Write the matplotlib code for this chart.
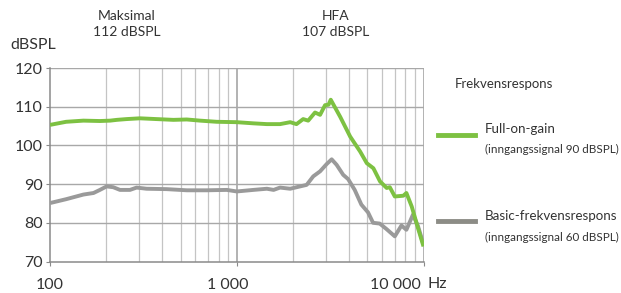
import matplotlib
matplotlib.use("Agg")
import matplotlib.pyplot as plt
import matplotlib.transforms as mtransforms
from matplotlib.ticker import FixedLocator, NullFormatter

plt.rcParams['font.family'] = ['Lato', 'DejaVu Sans']

green_freq = [100, 122, 151, 185, 210, 228, 257, 303, 372, 458, 540, 636, 781, 1000,
              1228, 1450, 1705, 1933, 2089, 2268, 2413, 2625, 2794, 2971, 3100, 3187,
              3579, 4047, 4580, 4970, 5390, 5850, 6350, 6600, 7020, 7800, 8100, 8650,
              9400, 10000]
green_db = [105.3, 106.1, 106.4, 106.3, 106.4, 106.6, 106.8, 107.0, 106.8, 106.6, 106.7,
            106.4, 106.1, 106.0, 105.7, 105.5, 105.5, 106.0, 105.5, 106.8, 106.4, 108.5,
            107.9, 110.4, 110.5, 111.8, 107.4, 102.3, 98.4, 95.4, 94.1, 90.7, 89.0, 89.2,
            86.8, 87.0, 87.7, 84.2, 78.2, 73.9]

grey_freq = [100, 122, 151, 171, 185, 201, 218, 237, 268, 291, 329, 421, 540, 690, 885,
             1000, 1228, 1450, 1575, 1705, 1933, 2180, 2368, 2568, 2794, 3033, 3223,
             3424, 3715, 3947, 4282, 4648, 5045, 5370, 5830, 6330, 7020, 7620, 8100,
             8780, 9350, 10000]
grey_db = [85.1, 86.1, 87.3, 87.7, 88.5, 89.4, 89.2, 88.5, 88.5, 89.1, 88.8, 88.7, 88.4,
           88.4, 88.5, 88.1, 88.5, 88.8, 88.5, 89.1, 88.8, 89.4, 89.8, 92.0, 93.3, 95.2,
           96.4, 95.0, 92.4, 91.3, 88.5, 84.7, 82.7, 80.0, 79.8, 78.4, 76.5, 79.3, 78.2,
           82.1, 79.1, 74.4]

y_ticks = [70, 80, 90, 100, 110, 120]
x_ticks = [100, 1000, 10000]
x_labels = ["100", "1 000", "10 000"]

GREEN = "#7dc142"
GREY = "#9a9a9a"
TXT = "#333333"
GRID = "#c4c4c4"

fig = plt.figure(figsize=(6.21, 2.93), dpi=100)
ax = fig.add_axes([50/621, 31.5/293, 373.5/621, 193.5/293])

ax.set_xscale('log')
ax.set_xlim(100, 10000)
ax.set_ylim(70, 120)

minor = [m * d for d in (100, 1000) for m in range(2, 10)]
for f in minor:
    ax.axvline(f, color=GRID, lw=0.9, zorder=1)
ax.axvline(1000, color="#9e9e9e", lw=1.1, zorder=1)
ax.axvline(10000, color="#9e9e9e", lw=1.1, zorder=1)
for y in y_ticks[1:]:
    ax.axhline(y, color="#a8a8a8", lw=1.0, zorder=1)

ax.plot(grey_freq, grey_db, color=GREY, lw=2.8, solid_capstyle='butt', zorder=3)
ax.plot(green_freq, green_db, color=GREEN, lw=2.8, solid_capstyle='butt', zorder=4)

for s in ['top', 'right']:
    ax.spines[s].set_visible(False)
for s in ['left', 'bottom']:
    ax.spines[s].set_color("#8a8a8a")
    ax.spines[s].set_linewidth(1.1)

ax.set_yticks(y_ticks)
ax.set_yticklabels([str(v) for v in y_ticks])
ax.xaxis.set_major_locator(FixedLocator(x_ticks))
ax.set_xticklabels(x_labels)
ax.xaxis.set_minor_formatter(NullFormatter())
ax.tick_params(axis='x', which='minor', length=0)
ax.tick_params(axis='both', which='major', length=3, color="#8a8a8a", labelsize=11.5,
               labelcolor=TXT)
ax.tick_params(axis='x', pad=9)
ax.tick_params(axis='y', pad=2)

offsets = [0, -9, -28]
for lab, dx in zip(ax.get_xticklabels(), offsets):
    lab.set_transform(lab.get_transform() + mtransforms.ScaledTranslation(dx/100, 0, fig.dpi_scale_trans))

fig.text(10/621, 1 - 45/293, "dBSPL", fontsize=11.5, color=TXT, va='center', ha='left')
fig.text(127/621, 1 - 24/293, "Maksimal\n112 dBSPL", fontsize=10, color=TXT,
         ha='center', va='center', linespacing=1.3)
fig.text(336/621, 1 - 24/293, "HFA\n107 dBSPL", fontsize=10, color=TXT,
         ha='center', va='center', linespacing=1.3)
fig.text(428/621, 1 - 284/293, "Hz", fontsize=11.5, color=TXT, ha='left', va='center')

fig.text(455/621, 1 - 84/293, "Frekvensrespons", fontsize=9.5, color=TXT, va='center')
fig.add_artist(plt.Line2D([438/621, 475/621], [1 - 135/293] * 2, color=GREEN, lw=3.5,
                          transform=fig.transFigure))
fig.text(485/621, 1 - 129/293, "Full-on-gain", fontsize=9.6, color=TXT, va='center')
fig.text(485/621, 1 - 149/293, "(inngangssignal 90 dBSPL)", fontsize=8.4, color=TXT, va='center')
fig.add_artist(plt.Line2D([438/621, 475/621], [1 - 221/293] * 2, color="#8c8c86", lw=3.5,
                          transform=fig.transFigure))
fig.text(485/621, 1 - 216/293, "Basic-frekvensrespons", fontsize=9.6, color=TXT, va='center')
fig.text(485/621, 1 - 237/293, "(inngangssignal 60 dBSPL)", fontsize=8.4, color=TXT, va='center')

fig.savefig("out.png", dpi=100)
